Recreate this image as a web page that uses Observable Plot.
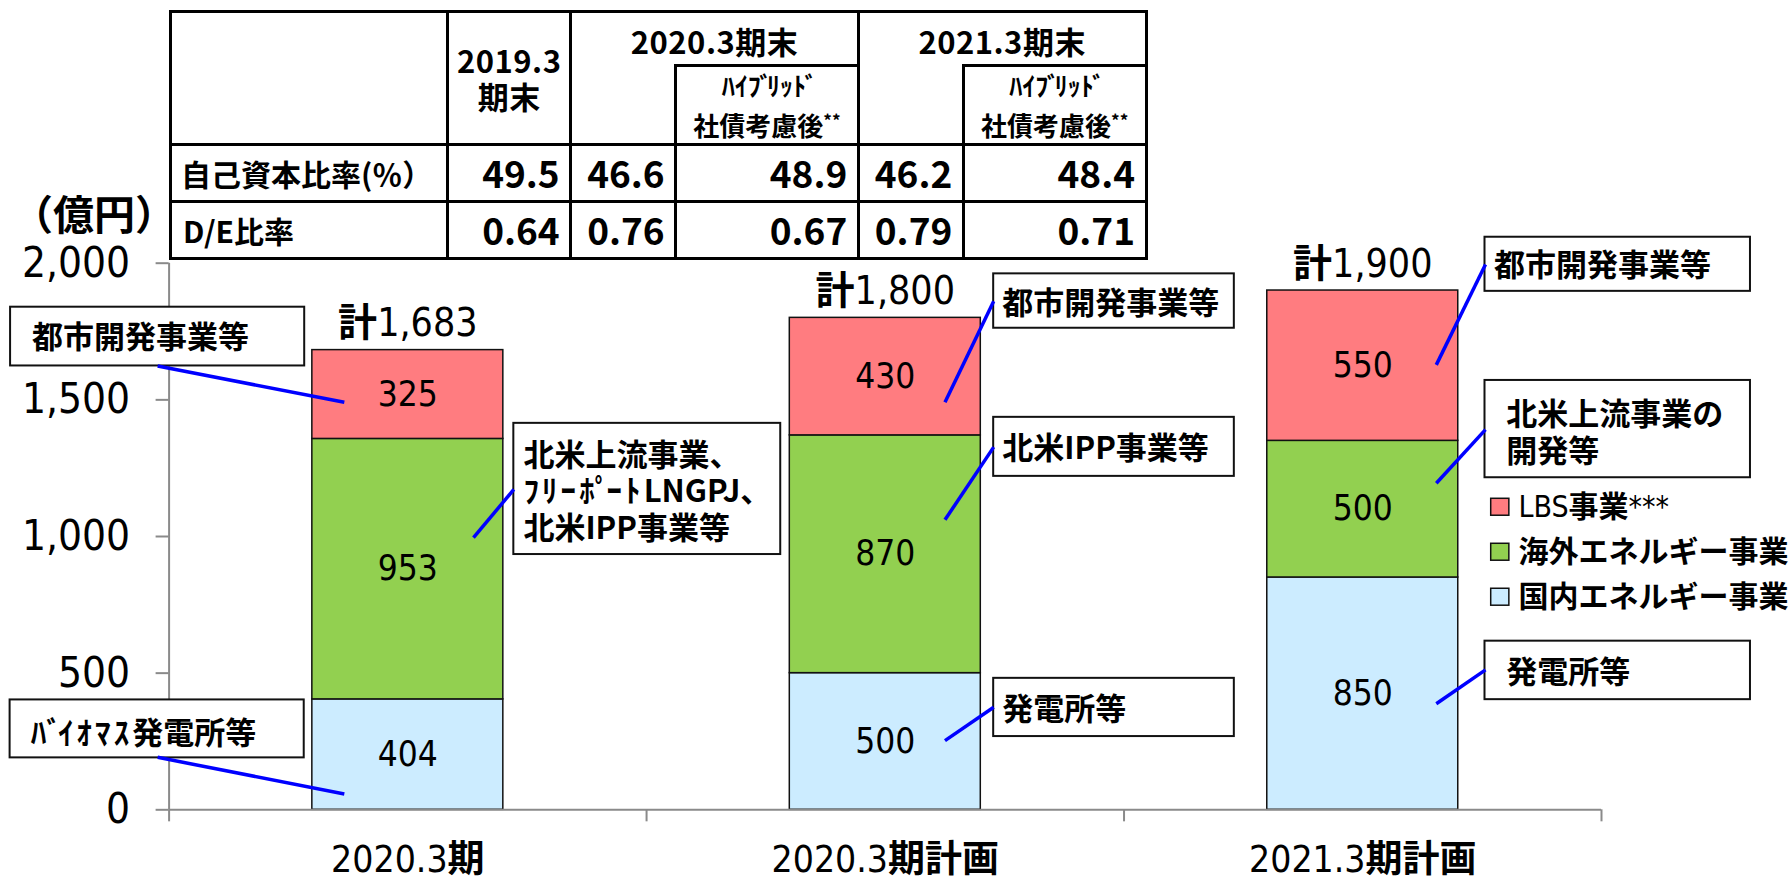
<!DOCTYPE html>
<html>
<head>
<meta charset="utf-8">
<script src="https://cdn.jsdelivr.net/npm/d3@7"></script>
<script src="https://cdn.jsdelivr.net/npm/@observablehq/plot@0.6"></script>
<style>
  body { margin: 0; background: #fff; }
  #wrap { position: relative; width: 1792px; height: 877px; overflow: hidden; background: #fff; }
  #chart svg { display: block; }
  #table { position: absolute; left: 0; top: 0; width: 1792px; height: 877px; pointer-events: none; }
  .ln { position: absolute; background: #000; }
  .cell { position: absolute; display: flex; align-items: center; font-family: "Noto Sans CJK JP", sans-serif; font-weight: 700; color: #000; white-space: nowrap; box-sizing: border-box; }
  .dk { margin-left: -0.06em; margin-right: -0.2em; }
</style>
</head>
<body>
<div id="wrap"><div id="chart"></div><div id="table"></div></div>
<script>
// ---------- data ----------
const categories = ["2020.3期", "2020.3期計画", "2021.3期計画"];
const seriesNames = ["国内エネルギー事業", "海外エネルギー事業", "LBS事業***"];
const domesticValues = [404, 500, 850];
const overseasValues = [953, 870, 500];
const lbsValues = [325, 430, 550];
const totalValues = [1683, 1800, 1900];
const yTicks = [0, 500, 1000, 1500, 2000];
const unitLabel = "（億円）";
const seriesColors = ["#CCECFF", "#92D050", "#FF7C80"];

// table
const tableRowLabels = ["自己資本比率(％）", "D/E比率"];
const tableYearHeaders = ["2019.3\n期末", "2020.3期末", "2021.3期末"];
const tableSubHeader = "ﾊｲﾌﾞﾘｯﾄﾞ\n社債考慮後";
const equityRatio = [49.5, 46.6, 48.9, 46.2, 48.4];
const deRatio = [0.64, 0.76, 0.67, 0.79, 0.71];

// callouts (positions in chart units: x = category index, y = 億円)
const callouts = [
  {text: "都市開発事業等", bx1: -0.332, bx2: 0.284, by1: 1624, by2: 1839, tx: -0.287, ty: 1731, lx1: -0.024, ly1: 1624, lx2: 0.367, ly2: 1491},
  {text: "北米上流事業、\nﾌﾘｰﾎﾟｰﾄLNGPJ、\n北米IPP事業等", bx1: 0.722, bx2: 1.281, by1: 934, by2: 1414, tx: 0.742, ty: 1168, lx1: 0.722, ly1: 1172, lx2: 0.6375, ly2: 996},
  {text: "ﾊﾞｲｵﾏｽ発電所等", bx1: -0.333, bx2: 0.283, by1: 190, by2: 402, tx: -0.290, ty: 284, lx1: -0.024, ly1: 192, lx2: 0.367, ly2: 58},
  {text: "都市開発事業等", bx1: 1.727, bx2: 2.231, by1: 1762, by2: 1961, tx: 1.745, ty: 1856, lx1: 1.727, ly1: 1861, lx2: 1.625, ly2: 1491},
  {text: "北米IPP事業等", bx1: 1.727, bx2: 2.231, by1: 1220, by2: 1436, tx: 1.745, ty: 1327, lx1: 1.727, ly1: 1327, lx2: 1.625, ly2: 1061},
  {text: "発電所等", bx1: 1.727, bx2: 2.231, by1: 268, by2: 481, tx: 1.745, ty: 371, lx1: 1.727, ly1: 375, lx2: 1.625, ly2: 253},
  {text: "都市開発事業等", bx1: 2.756, bx2: 3.312, by1: 1897, by2: 2095, tx: 2.775, ty: 1995, lx1: 2.757, ly1: 1995, lx2: 2.654, ly2: 1628},
  {text: "北米上流事業の\n開発等", bx1: 2.756, bx2: 3.312, by1: 1215, by2: 1571, tx: 2.8005, ty: 1384, lx1: 2.757, ly1: 1391, lx2: 2.654, ly2: 1195},
  {text: "発電所等", bx1: 2.756, bx2: 3.312, by1: 403, by2: 617, tx: 2.8005, ty: 506, lx1: 2.757, ly1: 512, lx2: 2.654, ly2: 388}
];

// legend layout (chart units)
const legendLayout = {sx1: 2.769, sx2: 2.807, tx: 2.826, y0: 1107, step: 164.6, half: 31};

// ---------- build tables for Plot ----------
const valueSets = [domesticValues, overseasValues, lbsValues];
const barData = [];
categories.forEach((c, i) => {
  let base = 0;
  valueSets.forEach((vals, s) => {
    barData.push({cat: c, idx: i, series: seriesNames[s], value: vals[i], y1: base, y2: base + vals[i]});
    base += vals[i];
  });
});
const legendItems = seriesNames.slice().reverse().map((name, k) => ({
  name, y: legendLayout.y0 - k * legendLayout.step
}));

const gray = "#8a8a8a";
const latinFont = "'DejaVu Sans Condensed', 'DejaVu Sans', sans-serif";
const cjkFont = "'Noto Sans CJK JP', sans-serif";

const chart = Plot.plot({
  width: 1792,
  height: 877,
  marginLeft: 168.6,
  marginRight: 191,
  marginTop: 262.7,
  marginBottom: 67.7,
  x: {type: "linear", domain: [0, 3], axis: null},
  y: {domain: [0, 2000], axis: null},
  color: {domain: seriesNames, range: seriesColors},
  style: `font-family: ${latinFont}; font-stretch: condensed; background: white; color: black;`,
  marks: [
    Plot.rect(barData, {x1: d => d.idx + 0.3, x2: d => d.idx + 0.7, y1: "y1", y2: "y2", fill: "series", stroke: "#111", strokeWidth: 1.5}),
    Plot.ruleY([0], {stroke: gray, strokeWidth: 2}),
    Plot.ruleX([0], {y1: 0, y2: 2000, stroke: gray, strokeWidth: 2}),
    Plot.ruleX([0, 1, 2, 3], {y1: 0, y2: -44, stroke: gray, strokeWidth: 2}),
    Plot.axisY({ticks: yTicks, tickSize: 13, tickPadding: 26, fontSize: 42, stroke: gray, strokeWidth: 2, fill: "black", tickFormat: d3.format(","), label: null}),
    Plot.text(barData, {x: d => d.idx + 0.5, y: d => (d.y1 + d.y2) / 2, text: d => String(d.value), fontSize: 35, fill: "black"}),
    Plot.text(categories, {x: (d, i) => i + 0.5, y: (d, i) => totalValues[i], text: (d, i) => "計" + d3.format(",")(totalValues[i]), dy: -26, fontSize: 39, fill: "black"}),
    Plot.text(categories, {x: (d, i) => i + 0.5, y: 0, text: d => d, dy: 50, fontSize: 37, fill: "black"}),
    Plot.text([unitLabel], {frameAnchor: "top-left", textAnchor: "middle", lineAnchor: "middle", text: d => d, dx: -75, dy: -46, fontSize: 41, fontWeight: "bold", fontFamily: cjkFont, fill: "black"}),
    Plot.rect(callouts, {x1: "bx1", x2: "bx2", y1: "by1", y2: "by2", fill: "white", stroke: "#111", strokeWidth: 2}),
    Plot.link(callouts, {x1: "lx1", y1: "ly1", x2: "lx2", y2: "ly2", stroke: "#0000ff", strokeWidth: 3.5}),
    Plot.text(callouts, {x: "tx", y: "ty", text: "text", textAnchor: "start", fontSize: 31, fontWeight: "bold", fontFamily: cjkFont, lineHeight: 1.18, fill: "black"}),
    Plot.rect(legendItems, {x1: legendLayout.sx1, x2: legendLayout.sx2, y1: d => d.y - legendLayout.half, y2: d => d.y + legendLayout.half, fill: "name", stroke: "#111", strokeWidth: 1.5}),
    Plot.text(legendItems, {x: legendLayout.tx, y: "y", text: "name", textAnchor: "start", fontSize: 30, fontWeight: "bold", fontFamily: cjkFont, fill: "black"})
  ]
});
document.getElementById("chart").appendChild(chart);

const SVGNS = "http://www.w3.org/2000/svg";

// mixed-weight labels: Latin runs regular, CJK runs bold
const mixed = new Set([...categories, ...totalValues.map(v => "計" + d3.format(",")(v)), seriesNames[2]]);
d3.select(chart).selectAll("text").each(function () {
  if (this.childElementCount > 0) return;
  const s = this.textContent;
  if (!mixed.has(s)) return;
  const runs = s.match(/[\x20-\x7E]+|[^\x20-\x7E]+/g);
  const el = d3.select(this);
  el.text(null);
  runs.forEach(r => {
    const latin = /^[\x20-\x7E]+$/.test(r);
    el.append("tspan").text(r)
      .attr("font-family", latin ? latinFont : cjkFont)
      .attr("font-weight", latin ? "normal" : "bold")
      .attr("font-size", latin && r.length > 3 && s.startsWith("計") ? null : null);
  });
});

// half-width katakana: slightly wider spacing, voiced marks pulled in
function tweakKana(node) {
  const s = node.textContent;
  if (!/[\uFF61-\uFF9F]/.test(s)) return;
  const parts = s.match(/[\uFF9E\uFF9F]|[\uFF61-\uFF9D]+|[^\uFF61-\uFF9F]+/g);
  while (node.firstChild) node.removeChild(node.firstChild);
  let after = false;
  for (const p of parts) {
    const t = document.createElementNS(SVGNS, "tspan");
    t.textContent = p;
    const mark = /^[\uFF9E\uFF9F]$/.test(p);
    const kana = /^[\uFF61-\uFF9D]+$/.test(p);
    if (mark) { t.setAttribute("dx", "-0.1em"); t.setAttribute("letter-spacing", "0"); after = true; }
    else {
      if (after) { t.setAttribute("dx", "-0.12em"); after = false; }
      if (kana) t.setAttribute("letter-spacing", "0.1em");
    }
    node.appendChild(t);
  }
}
chart.querySelectorAll("text, tspan").forEach(n => {
  if (n.childElementCount === 0) tweakKana(n);
});

// ---------- table (HTML overlay) ----------
const tX = [170, 447.7, 570.7, 675.7, 858.3, 963.3, 1146];
const tY = [11.7, 65, 144, 201, 258];
const lw = 3;
const tbl = document.getElementById("table");
function addLine(x1, y1, x2, y2) {
  const d = document.createElement("div");
  d.className = "ln";
  d.style.left = (x1 - lw / 2) + "px";
  d.style.top = (y1 - lw / 2) + "px";
  d.style.width = (x2 - x1 + lw) + "px";
  d.style.height = (y2 - y1 + lw) + "px";
  tbl.appendChild(d);
}
[tY[0], tY[2], tY[3], tY[4]].forEach(y => addLine(tX[0], y, tX[6], y));
addLine(tX[3], tY[1], tX[4], tY[1]);
addLine(tX[5], tY[1], tX[6], tY[1]);
[tX[0], tX[1], tX[2], tX[4], tX[6]].forEach(x => addLine(x, tY[0], x, tY[4]));
[tX[3], tX[5]].forEach(x => addLine(x, tY[1], x, tY[4]));

function esc(s) { return s.replace(/[ﾞﾟ]/g, m => `<span class="dk">${m}</span>`); }
function addCell(x1, y1, x2, y2, html, opts = {}) {
  const d = document.createElement("div");
  d.className = "cell";
  d.style.left = x1 + "px";
  d.style.top = y1 + "px";
  d.style.width = (x2 - x1) + "px";
  d.style.height = (y2 - y1) + "px";
  d.style.justifyContent = opts.align || "center";
  d.style.textAlign = opts.textAlign || "center";
  d.style.fontSize = (opts.size || 30) + "px";
  d.style.lineHeight = (opts.lh || 1.2) + (opts.lhpx ? "px" : "");
  if (opts.pad) d.style.padding = opts.pad;
  if (opts.ls) d.style.letterSpacing = opts.ls;
  d.innerHTML = html;
  tbl.appendChild(d);
}
const [h1, h2, h3] = tableYearHeaders;
addCell(tX[1], tY[0], tX[2], tY[2], "<div>" + h1.split("\n").join("<br>") + "</div>", {size: 31, lh: 35.5, lhpx: true, ls: "0.5px"});
addCell(tX[2], tY[0], tX[4], tY[1] + 4, h2, {size: 31, ls: "0.5px"});
addCell(tX[4], tY[0], tX[6], tY[1] + 4, h3, {size: 31, ls: "0.5px"});
const subHtml = "<div>" + esc(tableSubHeader).split("\n").join("<br>") + "<span style='font-size:17px;vertical-align:9px'>**</span></div>";
addCell(tX[3], tY[1], tX[4], tY[2], subHtml, {size: 26, lh: 35.5, lhpx: true});
addCell(tX[5], tY[1], tX[6], tY[2], subHtml, {size: 26, lh: 35.5, lhpx: true});
addCell(tX[0], tY[2], tX[1], tY[3], tableRowLabels[0], {align: "flex-start", size: 30, pad: "0 0 0 11px"});
addCell(tX[0], tY[3], tX[1], tY[4], tableRowLabels[1], {align: "flex-start", size: 30, pad: "0 0 0 13px"});
const valCols = [[tX[1], tX[2]], [tX[2], tX[3]], [tX[3], tX[4]], [tX[4], tX[5]], [tX[5], tX[6]]];
valCols.forEach(([a, b], j) => {
  addCell(a, tY[2], b, tY[3], equityRatio[j].toFixed(1), {align: "flex-end", size: 37, pad: "0 11px 0 0"});
  addCell(a, tY[3], b, tY[4], deRatio[j].toFixed(2), {align: "flex-end", size: 37, pad: "0 11px 0 0"});
});
</script>
</body>
</html>
